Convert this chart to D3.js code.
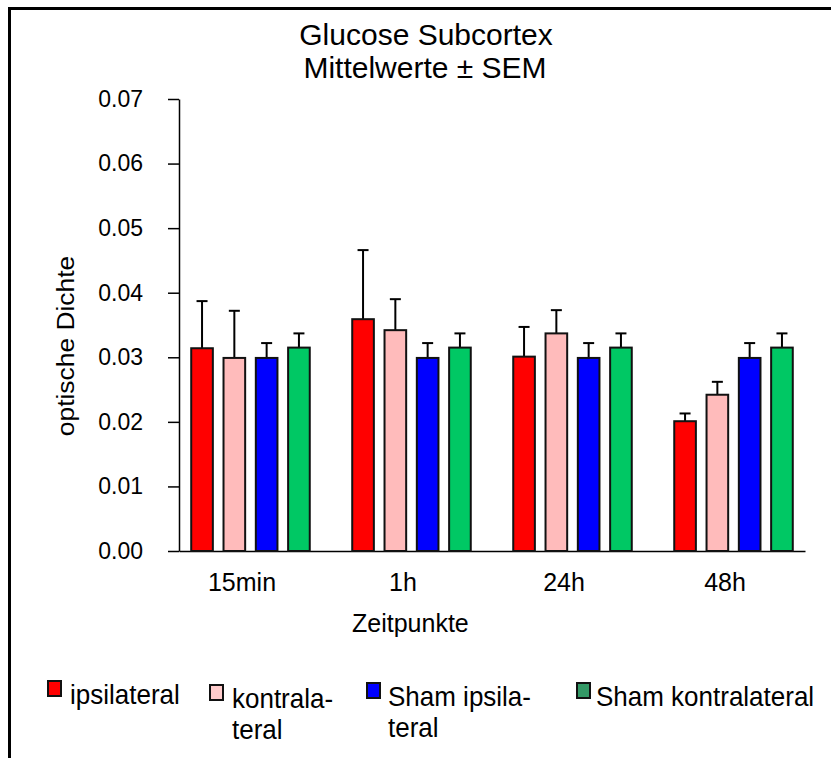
<!DOCTYPE html>
<html><head><meta charset="utf-8">
<script src="https://cdn.jsdelivr.net/npm/d3@7"></script>
<style>body{margin:0;background:#fff}svg{display:block}text{font-family:Arial,"Liberation Sans",sans-serif;fill:#000}</style>
</head><body>
<script>
const categories = ["15min", "1h", "24h", "48h"];
const seriesNames = ["ipsilateral", "kontralateral", "Sham ipsilateral", "Sham kontralateral"];
const ipsilateral = [0.0314, 0.0359, 0.0301, 0.0201];
const kontralateral = [0.0299, 0.0342, 0.0337, 0.0242];
const shamIpsilateral = [0.0299, 0.0299, 0.0299, 0.0299];
const shamKontralateral = [0.0315, 0.0315, 0.0315, 0.0315];
const semIpsilateral = [0.0073, 0.0107, 0.0046, 0.0012];
const semKontralateral = [0.0073, 0.0048, 0.0036, 0.0020];
const semShamIpsilateral = [0.0023, 0.0023, 0.0023, 0.0023];
const semShamKontralateral = [0.0022, 0.0022, 0.0022, 0.0022];
const yTicks = [0, 0.01, 0.02, 0.03, 0.04, 0.05, 0.06, 0.07];
const barColors = ["#ff0000", "#ffbbbb", "#0000ff", "#00c864"];
const legendColors = ["#ff0000", "#ffcccc", "#0000ff", "#339966"];
const legendLines = [["ipsilateral"], ["kontrala-", "teral"], ["Sham ipsila-", "teral"], ["Sham kontralateral"]];

const values = [ipsilateral, kontralateral, shamIpsilateral, shamKontralateral];
const sems = [semIpsilateral, semKontralateral, semShamIpsilateral, semShamKontralateral];

const W = 831, H = 758;
const svg = d3.select("body").append("svg").attr("width", W).attr("height", H);

// frame
svg.append("rect").attr("x", 9.5).attr("y", 8.5).attr("width", 900).attr("height", 900)
  .attr("fill", "none").attr("stroke", "#000").attr("stroke-width", 3);

// title
svg.append("text").attr("x", 426).attr("y", 45).attr("text-anchor", "middle").attr("font-size", 30).text("Glucose Subcortex");
svg.append("text").attr("x", 425).attr("y", 78).attr("text-anchor", "middle").attr("font-size", 30).text("Mittelwerte \u00B1 SEM");

const x0 = 179, x1 = 805, yb = 551, yt = 99;
const y = d3.scaleLinear().domain([0, 0.07]).range([yb, yt]);
const xg = d3.scalePoint().domain(categories).range([x0, x1]).padding(0.444);
const xs = d3.scaleBand().domain(seriesNames).range([-64.6, 64.6]).paddingInner(0.33).paddingOuter(0.165);

// y axis
const yAxis = d3.axisLeft(y).tickValues(yTicks).tickFormat(d3.format(".2f")).tickSize(11).tickPadding(25).tickSizeOuter(0);
const ga = svg.append("g").attr("transform", `translate(${x0},0)`).call(yAxis);
ga.select(".domain").attr("stroke", "#000").attr("stroke-width", 1.5);
ga.selectAll(".tick line").attr("stroke", "#000").attr("stroke-width", 1.5);
ga.selectAll(".tick text").attr("font-size", 23).attr("font-family", "Arial, 'Liberation Sans', sans-serif").attr("fill", "#000");

// x axis
const xAxis = d3.axisBottom(xg).tickSize(0).tickPadding(0);
const gx = svg.append("g").attr("transform", `translate(0,${yb})`).call(xAxis);
gx.select(".domain").attr("stroke", "#000").attr("stroke-width", 1.5);
gx.selectAll(".tick text").attr("font-size", 25).attr("font-family", "Arial, 'Liberation Sans', sans-serif")
  .attr("fill", "#000").attr("dy", 0).attr("y", 40).attr("x", -9);

// bars
seriesNames.forEach((s, si) => {
  const g = svg.append("g");
  categories.forEach((c, ci) => {
    const v = values[si][ci], e = sems[si][ci];
    const bx = xg(c) + xs(s), bw = xs.bandwidth(), cx = bx + bw / 2;
    g.append("line").attr("x1", cx).attr("x2", cx).attr("y1", y(v)).attr("y2", y(v + e)).attr("stroke", "#000").attr("stroke-width", 2);
    g.append("line").attr("x1", cx - 5.5).attr("x2", cx + 5.5).attr("y1", y(v + e)).attr("y2", y(v + e)).attr("stroke", "#000").attr("stroke-width", 2);
    g.append("rect").attr("x", bx).attr("y", y(v)).attr("width", bw).attr("height", yb - y(v))
      .attr("fill", barColors[si]).attr("stroke", "#111").attr("stroke-width", 2);
  });
});

// axis labels
svg.append("text").attr("x", 352).attr("y", 632).attr("font-size", 25).text("Zeitpunkte");
svg.append("text").attr("transform", "translate(74,346) rotate(-90) scale(1.1,1)").attr("text-anchor", "middle").attr("font-size", 24).text("optische Dichte");

// legend
const legX = [48, 210, 367, 577], legTX = [70, 232, 388, 596], legBase = [704, 708, 706, 706];
seriesNames.forEach((s, i) => {
  svg.append("rect").attr("x", legX[i]).attr("y", legBase[i] - 23).attr("width", 13).attr("height", 15)
    .attr("fill", legendColors[i]).attr("stroke", "#111").attr("stroke-width", 2);
  legendLines[i].forEach((t, li) => {
    svg.append("text").attr("transform", `translate(${legTX[i]},${legBase[i] + li * 31}) scale(1,1.08)`).attr("font-size", 26).text(t);
  });
});
</script>
</body></html>
